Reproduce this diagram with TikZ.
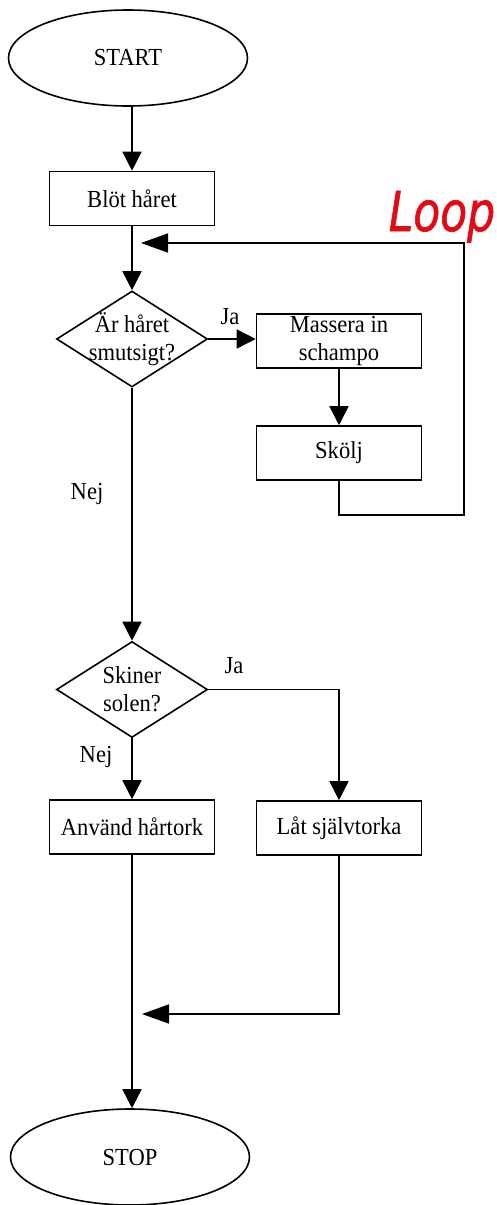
\documentclass[tikz,border=0pt]{standalone}
\usepackage{fontspec}
\setmainfont[FakeStretch=0.92]{Liberation Serif}
\newfontfamily\handfont[FakeBold=1.2]{DejaVu Sans}
\usetikzlibrary{shapes.geometric,arrows.meta}
\definecolor{loopred}{RGB}{228,10,20}
\begin{document}
\begin{tikzpicture}[x=1pt,y=-1pt,
  font=\fontsize{24.5}{28}\selectfont,
  line width=1.6pt,
  term/.style={ellipse,draw,minimum width=239pt,minimum height=96pt,inner sep=0pt},
  proc/.style={rectangle,draw,minimum width=165pt,minimum height=54pt,inner sep=0pt,align=center},
  dec/.style={diamond,draw,minimum width=151pt,minimum height=96pt,inner sep=0pt},
  lbl/.style={align=center,inner sep=0pt},
  flow/.style={-{Triangle[length=19pt,width=19pt]}},
  back/.style={-{Triangle[length=27pt,width=19pt]}},
]
\useasboundingbox (0,0) rectangle (497,1205);

% main column
\node[term] (start) at (128,58) {START};
\node[proc] (blot) at (132,198.5) {Blöt håret};
\node[dec] (d1) at (132,339) {};
\node[lbl] (d1t) at (d1) {Är håret\\smutsigt?};
\node[dec] (d2) at (132,689.5) {};
\node[lbl] (d2t) at (d2) {Skiner\\solen?};
\node[proc] (anvand) at (132,827) {Använd hårtork};
\node[term] (stop) at (130,1157) {STOP};

% right column
\node[proc] (massera) at (339,341) {Massera in\\schampo};
\node[proc] (skolj) at (339,453) {Skölj};
\node[proc] (lat) at (339,828) {Låt självtorka};

% branch labels
\node[lbl] (ja1) at (230,317) {Ja};
\node[lbl] (nej1) at (87,494) {Nej};
\node[lbl] (ja2) at (234,666) {Ja};
\node[lbl] (nej2) at (96,757) {Nej};

% loop-back and merge points
\coordinate (loopbot) at (464,515);
\coordinate (loopin) at (141,243);
\coordinate (joinin) at (142,1014);

\node[anchor=base west,inner sep=0pt,text=loopred,
      font=\handfont\itshape\fontsize{44}{44}\selectfont] (looplbl) at (388,231) {\scalebox{1}[1.25]{Loop}};

% connectors
\draw[flow] (start.south -| blot.north) -- (blot.north);
\draw[flow] (blot.south) -- (d1.north);
\draw[flow] (d1.east) -- (d1.east -| massera.west);
\draw[flow] (massera.south) -- (skolj.north);
\draw[back] (skolj.south) |- (loopbot) |- (loopin);
\draw[flow] (d1.south) -- (d2.north);
\draw[flow] (d2.east) -| (lat.north);
\draw[flow] (d2.south) -- (anvand.north);
\draw[back] (lat.south) |- (joinin);
\draw[flow] (anvand.south) -- (stop.north -| anvand.south);
\end{tikzpicture}
\end{document}
